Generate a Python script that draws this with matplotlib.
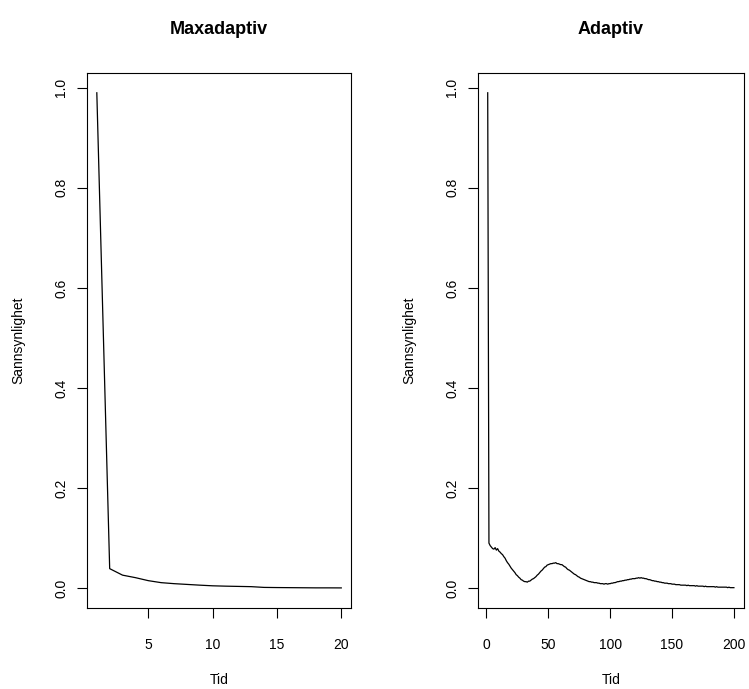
import matplotlib.pyplot as plt

plt.rcParams['font.family'] = ['Liberation Sans', 'DejaVu Sans']

# Maxadaptiv: probability per time step 1..20
max_tid = list(range(1, 21))
max_p = [0.99, 0.039, 0.026, 0.021, 0.015, 0.011, 0.009, 0.0075, 0.006, 0.0047,
         0.004, 0.0035, 0.003, 0.0015, 0.0012, 0.001, 0.0008, 0.0006, 0.0006, 0.0005]

# Adaptiv: probability per time step 1..200
ada_tid = list(range(1, 201))
ada_p = [
    0.990, 0.090, 0.085, 0.082, 0.079, 0.078, 0.081, 0.076, 0.079, 0.074,
    0.072, 0.069, 0.067, 0.063, 0.060, 0.055, 0.051, 0.048, 0.044, 0.040,
    0.037, 0.034, 0.031, 0.027, 0.025, 0.022, 0.020, 0.017, 0.016, 0.014,
    0.013, 0.013, 0.012, 0.014, 0.014, 0.016, 0.018, 0.019, 0.021, 0.023,
    0.026, 0.028, 0.031, 0.034, 0.036, 0.039, 0.042, 0.043, 0.046, 0.047,
    0.048, 0.049, 0.049, 0.050, 0.050, 0.051, 0.049, 0.049, 0.048, 0.047,
    0.047, 0.045, 0.043, 0.042, 0.039, 0.037, 0.036, 0.034, 0.032, 0.030,
    0.028, 0.027, 0.025, 0.023, 0.022, 0.020, 0.019, 0.018, 0.017, 0.016,
    0.015, 0.014, 0.013, 0.013, 0.012, 0.012, 0.011, 0.011, 0.011, 0.010,
    0.010, 0.009, 0.009, 0.009, 0.008, 0.009, 0.009, 0.008, 0.009, 0.009,
    0.010, 0.010, 0.011, 0.011, 0.012, 0.013, 0.013, 0.014, 0.014, 0.015,
    0.015, 0.016, 0.016, 0.017, 0.017, 0.018, 0.018, 0.019, 0.019, 0.019,
    0.020, 0.020, 0.021, 0.020, 0.021, 0.020, 0.020, 0.019, 0.019, 0.018,
    0.017, 0.017, 0.016, 0.015, 0.015, 0.014, 0.014, 0.013, 0.013, 0.012,
    0.012, 0.011, 0.011, 0.010, 0.010, 0.010, 0.009, 0.009, 0.009, 0.008,
    0.008, 0.008, 0.007, 0.007, 0.007, 0.007, 0.006, 0.006, 0.006, 0.006,
    0.006, 0.005, 0.006, 0.005, 0.005, 0.005, 0.005, 0.005, 0.004, 0.005,
    0.004, 0.004, 0.004, 0.004, 0.004, 0.003, 0.004, 0.003, 0.003, 0.003,
    0.003, 0.003, 0.003, 0.003, 0.002, 0.003, 0.002, 0.002, 0.002, 0.002,
    0.002, 0.002, 0.002, 0.002, 0.001, 0.002, 0.001, 0.001, 0.001, 0.001,
]

y_ticks = [0.0, 0.2, 0.4, 0.6, 0.8, 1.0]
y_labels = ["0.0", "0.2", "0.4", "0.6", "0.8", "1.0"]

fig = plt.figure(figsize=(7.49, 6.89), dpi=100)


def r_panel(rect, x, y, title, xticks):
    ax = fig.add_axes(rect)
    ax.plot(x, y, color='black', lw=0.9)
    # R-style 4% padding on both axes
    xr = max(x) - min(x)
    ax.set_xlim(min(x) - 0.04 * xr, max(x) + 0.04 * xr)
    ax.set_ylim(-0.04 * 0.99, 0.99 + 0.04 * 0.99)
    ax.set_xticks(xticks)
    ax.set_yticks(y_ticks)
    ax.set_yticklabels(y_labels, rotation=90, va='center')
    ax.tick_params(direction='out', length=7.5, width=0.8, labelsize=10)
    ax.tick_params(axis='x', pad=14)
    ax.tick_params(axis='y', pad=6)
    for s in ax.spines.values():
        s.set_linewidth(0.8)
    ax.set_title(title, fontsize=13, fontweight='bold', pad=28)
    ax.set_xlabel('Tid', fontsize=10, labelpad=15)
    ax.set_ylabel('Sannsynlighet', fontsize=10, labelpad=21)
    return ax


r_panel([0.1162, 0.1176, 0.3525, 0.7765], max_tid, max_p, 'Maxadaptiv', [5, 10, 15, 20])
r_panel([0.638, 0.1176, 0.355, 0.7765], ada_tid, ada_p, 'Adaptiv', [0, 50, 100, 150, 200])

fig.savefig('out.png', dpi=100)
